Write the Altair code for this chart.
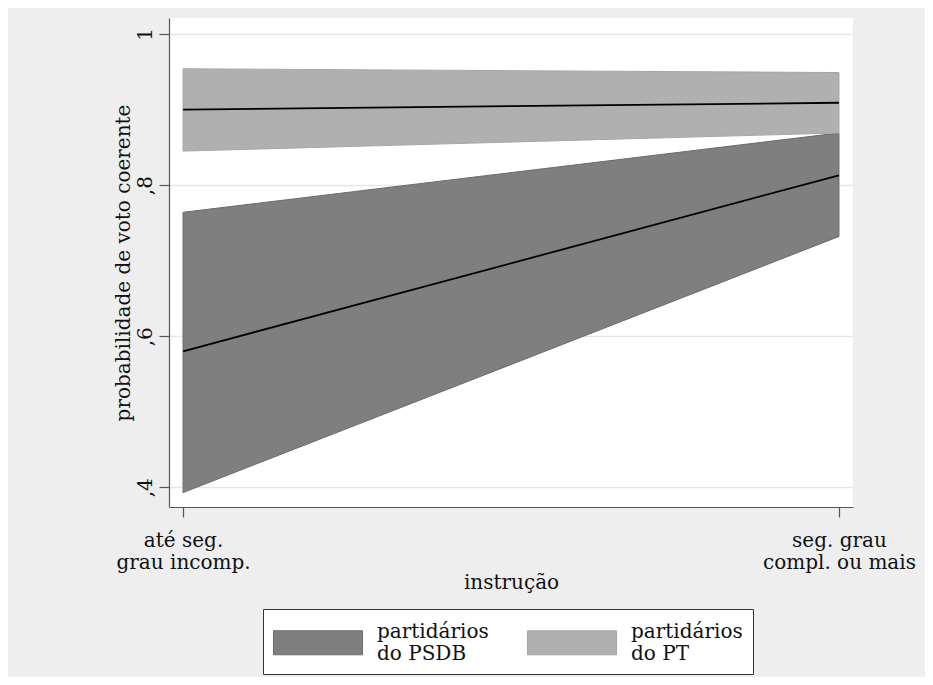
import altair as alt
import pandas as pd

# ---- data ----
groups = ["partidários do PSDB", "partidários do PT"]
x_pos = [0, 1]
x_labels = [["até seg.", "grau incomp."], ["seg. grau", "compl. ou mais"]]
psdb_mean = [0.580, 0.813]
psdb_lo = [0.393, 0.732]
psdb_hi = [0.764, 0.869]
pt_mean = [0.900, 0.909]
pt_lo = [0.845, 0.869]
pt_hi = [0.954, 0.949]
y_ticks = [0.4, 0.6, 0.8, 1.0]

rows = []
for g, m, lo, hi in [(groups[0], psdb_mean, psdb_lo, psdb_hi),
                     (groups[1], pt_mean, pt_lo, pt_hi)]:
    for i, x in enumerate(x_pos):
        rows.append({"grupo": g, "x": x, "mean": m[i], "lo": lo[i], "hi": hi[i],
                     "ordem": groups.index(g)})
df = pd.DataFrame(rows)

FONT = "DejaVu Serif"
FS = 20

xscale = alt.Scale(domain=[-0.0214, 1.0214], nice=False, zero=False)
yscale = alt.Scale(domain=[0.3739, 1.0212], nice=False, zero=False)

# wide rectangle symbol: layout size 24px, drawn 89px wide, shifted to centre on 2-line label
sym_w = 89.0 / 24.0 * 2.0 - 1.0
symbol_path = f"M-1,-0.08L{sym_w:.3f},-0.08L{sym_w:.3f},1.92L-1,1.92Z"

color = alt.Color(
    "grupo:N",
    scale=alt.Scale(domain=groups, range=["#7f7f7f", "#b0b0b0"]),
    legend=alt.Legend(
        title=None,
        orient="none",
        legendX=94,
        legendY=591,
        direction="horizontal",
        columns=2,
        symbolType=symbol_path,
        symbolSize=576,
        symbolStrokeWidth=1,
        symbolStrokeColor="#777777",
        symbolOpacity=1,
        labelFont=FONT,
        labelFontSize=FS,
        labelColor="#111111",
        labelExpr="['partidários', 'do ' + split(datum.label, ' do ')[1]]",
        labelLimit=0,
        labelOffset=79,
        columnPadding=36,
        padding=10,
        strokeColor="#333333",
        fillColor="#ffffff",
        cornerRadius=0,
    ),
)

x_label_expr = (
    "datum.value == 0 ? ['" + x_labels[0][0] + "', '" + x_labels[0][1] + "'] : ['"
    + x_labels[1][0] + "', '" + x_labels[1][1] + "']"
)

base = alt.Chart(df)

area = base.mark_area(strokeWidth=1, opacity=1).encode(
    x=alt.X(
        "x:Q",
        scale=xscale,
        axis=alt.Axis(
            values=x_pos,
            title="instrução",
            labelExpr=x_label_expr,
            grid=False,
            tickSize=10,
            labelPadding=13,
            labelLineHeight=22,
            titlePadding=0,
        ),
    ),
    y=alt.Y(
        "lo:Q",
        scale=yscale,
        axis=alt.Axis(
            values=y_ticks,
            title="probabilidade de voto coerente",
            labelExpr="datum.value == 1 ? '1' : ',' + format(datum.value * 10, 'd')",
            labelAngle=270,
            labelAlign="center",
            labelBaseline="bottom",
            labelPadding=4,
            tickSize=10,
            grid=True,
            titlePadding=2,
        ),
    ),
    y2="hi:Q",
    color=color,
    stroke=alt.Stroke(
        "grupo:N",
        scale=alt.Scale(domain=groups, range=["#6a6a6a", "#a6a6a6"]),
        legend=None,
    ),
    order=alt.Order("ordem:Q"),
)

line = base.mark_line(color="#000000", strokeWidth=1.8).encode(
    x=alt.X("x:Q", scale=xscale),
    y=alt.Y("mean:Q", scale=yscale),
    detail="grupo:N",
)

chart = (
    alt.layer(area, line)
    .properties(
        width=684,
        height=489,
        background="#eeeeee",
        padding={"left": 161, "top": 10, "right": 72, "bottom": 170},
        autosize=alt.AutoSizeParams(type="none"),
    )
    .configure_view(fill="#ffffff", stroke=None)
    .configure_axis(
        labelFont=FONT,
        titleFont=FONT,
        labelFontSize=FS,
        titleFontSize=FS,
        titleFontWeight="normal",
        labelColor="#111111",
        titleColor="#111111",
        domainColor="#555555",
        tickColor="#555555",
        gridColor="#e6e6e6",
        gridWidth=1.5,
        domainWidth=1.2,
        tickWidth=1.2,
    )
)

chart.save("out.html", embed_options={"renderer": "svg", "actions": False})
